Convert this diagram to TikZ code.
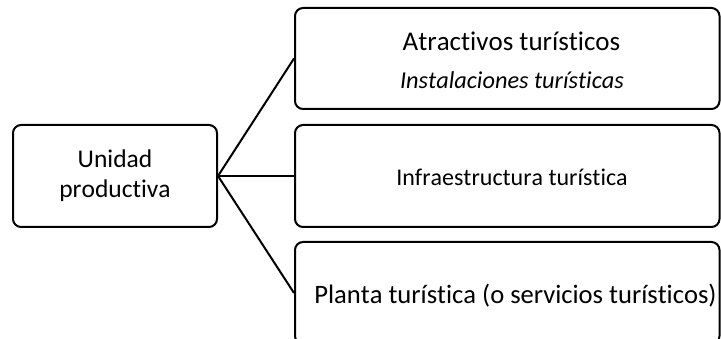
\documentclass[tikz,border=0pt]{standalone}
\usepackage{fontspec}
\setmainfont{Carlito}[Ligatures={NoCommon,NoRare,NoDiscretionary},Kerning=Off]
\begin{document}
\begin{tikzpicture}[x=1pt,y=-1pt,
  box/.style={draw=black,line width=2pt,rounded corners=8pt,inner sep=0pt},
  link/.style={draw=black,line width=2pt},
  lbl/.style={inner sep=0pt,text=black}]
\useasboundingbox (0,0) rectangle (721,339);
\clip (0,0) rectangle (721,339);
\node[box,minimum width=204pt,minimum height=102pt] (unit) at (115,176) {};
\node[lbl,align=center,font=\fontsize{25.5}{30}\selectfont] (unittxt) at (115,176) {Unidad\\productiva};
\node[box,minimum width=424.5pt,minimum height=101pt] (top) at (507.25,58.5) {};
\node[box,minimum width=424.5pt,minimum height=102pt] (mid) at (507.25,176) {};
\node[box,minimum width=424.5pt,minimum height=102pt] (bot) at (507.25,293) {};
\node[lbl,font=\fontsize{27}{30}\selectfont] (atr) at (511.5,41) {Atractivos turísticos};
\node[lbl,font=\fontsize{24.3}{28}\itshape] (ins) at (512,80) {Instalaciones turísticas};
\node[lbl,font=\fontsize{24}{28}\selectfont] (inf) at (512,177) {Infraestructura turística};
\node[lbl,font=\fontsize{26.6}{30}\selectfont] (pla) at (515.5,296) {Planta turística (o servicios turísticos)};
\draw[link] (unit.east) -- (top.west);
\draw[link] (unit.east) -- (mid.west);
\draw[link] (unit.east) -- (bot.west);
\end{tikzpicture}
\end{document}
